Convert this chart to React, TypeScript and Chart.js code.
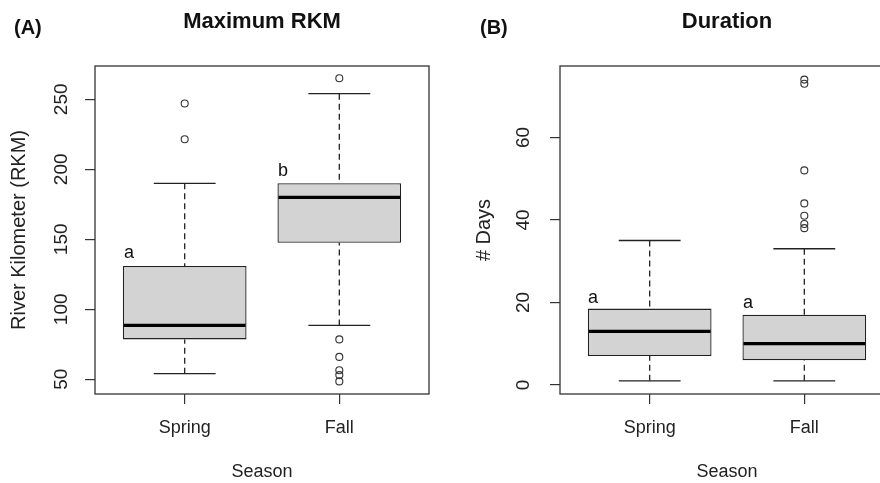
import React, { useEffect, useRef } from 'react';
import { Chart, registerables } from 'chart.js';

Chart.register(...registerables);

// ---------- data ----------
const seasons = ['Spring', 'Fall'];

// Panel A: Maximum RKM
const rkmLowerWhisker = [54, 88.5];
const rkmQ1 = [78.5, 147.5];
const rkmMedian = [88.5, 180];
const rkmQ3 = [131, 190];
const rkmUpperWhisker = [190, 254];
const rkmOutliers = [
  [221.5, 247],
  [265, 78.5, 66, 56.5, 53, 48.5],
];
const rkmTicks = [50, 100, 150, 200, 250];
const rkmLetters = ['a', 'b'];
const rkmLetterX = [0.64, 1.636];
const rkmLetterY = [138.8, 197.6];

// Panel B: Duration
const daysLowerWhisker = [1, 1];
const daysQ1 = [7, 6];
const daysMedian = [13, 10];
const daysQ3 = [18.5, 17];
const daysUpperWhisker = [35, 33];
const daysOutliers = [
  [] as number[],
  [74, 73, 52, 44, 41, 39, 38],
];
const daysTicks = [0, 20, 40, 60];
const daysLetters = ['a', 'a'];
const daysLetterX = [0.633, 1.636];
const daysLetterY = [20.8, 19.4];

const FONT = "'Liberation Sans', Arial, Helvetica, sans-serif";
const INK = '#222';

type Panel = {
  panelLabel: string;
  title: string;
  yTitle: string;
  lower: number[];
  q1: number[];
  median: number[];
  q3: number[];
  upper: number[];
  outliers: number[][];
  yMin: number;
  yMax: number;
  yTicks: number[];
  letters: string[];
  letterX: number[];
  letterY: number[];
  yAxisWidth: number;
  rightPad: number;
  yTickPadding: number;
  yTitlePad: number;
  labelX: number;
};

function makeConfig(p: Panel): any {
  const boxPlugin = {
    id: 'boxExtras',
    afterDatasetsDraw(chart: any) {
      const { ctx, scales, chartArea } = chart;
      const xs = scales.x;
      const ys = scales.y;
      ctx.save();
      for (let i = 0; i < seasons.length; i++) {
        const cx = xs.getPixelForValue(i + 1);
        const half = xs.getPixelForValue(i + 1 + 0.4) - cx;
        const capHalf = xs.getPixelForValue(i + 1 + 0.2) - cx;
        // whiskers (dashed)
        ctx.strokeStyle = INK;
        ctx.lineWidth = 1.3;
        ctx.setLineDash([6, 4]);
        ctx.beginPath();
        ctx.moveTo(cx, ys.getPixelForValue(p.upper[i]));
        ctx.lineTo(cx, ys.getPixelForValue(p.q3[i]));
        ctx.moveTo(cx, ys.getPixelForValue(p.lower[i]));
        ctx.lineTo(cx, ys.getPixelForValue(p.q1[i]));
        ctx.stroke();
        ctx.setLineDash([]);
        // caps
        ctx.beginPath();
        const yu = ys.getPixelForValue(p.upper[i]);
        const yl = ys.getPixelForValue(p.lower[i]);
        ctx.moveTo(cx - capHalf, yu);
        ctx.lineTo(cx + capHalf, yu);
        ctx.moveTo(cx - capHalf, yl);
        ctx.lineTo(cx + capHalf, yl);
        ctx.stroke();
        // median
        ctx.strokeStyle = '#000';
        ctx.lineWidth = 3.2;
        ctx.beginPath();
        const ym = ys.getPixelForValue(p.median[i]);
        ctx.moveTo(cx - half + 1, ym);
        ctx.lineTo(cx + half - 1, ym);
        ctx.stroke();
        // letters
        ctx.fillStyle = '#111';
        ctx.font = `18px ${FONT}`;
        ctx.textAlign = 'center';
        ctx.textBaseline = 'middle';
        ctx.fillText(
          p.letters[i],
          xs.getPixelForValue(p.letterX[i]),
          ys.getPixelForValue(p.letterY[i]) - 1.5
        );
      }
      // frame
      ctx.strokeStyle = '#333';
      ctx.lineWidth = 1.3;
      ctx.strokeRect(
        chartArea.left,
        chartArea.top,
        chartArea.right - chartArea.left,
        chartArea.bottom - chartArea.top
      );
      ctx.restore();
    },
    afterDraw(chart: any) {
      const { ctx, chartArea } = chart;
      ctx.save();
      ctx.fillStyle = '#111';
      ctx.textBaseline = 'middle';
      ctx.font = `bold 20px ${FONT}`;
      ctx.textAlign = 'left';
      ctx.fillText(p.panelLabel, p.labelX, 28.5);
      ctx.font = `bold 22px ${FONT}`;
      ctx.textAlign = 'center';
      ctx.fillText(p.title, (chartArea.left + chartArea.right) / 2, 22);
      ctx.restore();
    },
  };

  return {
    type: 'bar',
    data: {
      datasets: [
        {
          type: 'bar',
          data: seasons.map((_, i) => ({ x: i + 1, y: [p.q1[i], p.q3[i]] })),
          backgroundColor: '#d3d3d3',
          borderColor: INK,
          borderWidth: 1.3,
          borderSkipped: false,
          categoryPercentage: 1,
          barPercentage: 0.8,
        },
        {
          type: 'scatter',
          data: p.outliers.flatMap((arr, i) => arr.map((v) => ({ x: i + 1, y: v }))),
          pointStyle: 'circle',
          pointRadius: 3.5,
          backgroundColor: 'rgba(0,0,0,0)',
          borderColor: '#333',
          borderWidth: 1.1,
        },
      ],
    },
    options: {
      animation: false,
      responsive: false,
      events: [],
      layout: { padding: { left: 0, right: p.rightPad, top: 66, bottom: 0 } },
      plugins: { legend: { display: false }, tooltip: { enabled: false } },
      scales: {
        x: {
          type: 'linear',
          min: 0.42,
          max: 2.58,
          offset: false,
          afterBuildTicks: (s: any) => {
            s.ticks = seasons.map((_, i) => ({ value: i + 1 }));
          },
          afterFit: (s: any) => {
            s.height = 89;
          },
          grid: {
            display: true,
            offset: false,
            drawOnChartArea: false,
            drawTicks: true,
            tickLength: 10,
            color: '#333',
            lineWidth: 1.2,
          },
          border: { display: false },
          ticks: {
            callback: (v: number) => seasons[Math.round(v) - 1],
            font: { family: FONT, size: 18 },
            color: INK,
            padding: 13,
            maxRotation: 0,
            minRotation: 0,
          },
          title: {
            display: true,
            text: 'Season',
            font: { family: FONT, size: 18 },
            color: INK,
            padding: { top: 0, bottom: 0 },
          },
        },
        y: {
          type: 'linear',
          min: p.yMin,
          max: p.yMax,
          afterBuildTicks: (s: any) => {
            s.ticks = p.yTicks.map((v) => ({ value: v }));
          },
          afterFit: (s: any) => {
            s.width = p.yAxisWidth;
          },
          grid: {
            display: true,
            drawOnChartArea: false,
            drawTicks: true,
            tickLength: 10,
            color: '#333',
            lineWidth: 1.2,
          },
          border: { display: false },
          ticks: {
            font: { family: FONT, size: 19 },
            color: INK,
            minRotation: 90,
            maxRotation: 90,
            crossAlign: 'center',
            padding: p.yTickPadding,
          },
          title: {
            display: true,
            text: p.yTitle,
            font: { family: FONT, size: 20 },
            color: INK,
            padding: { top: p.yTitlePad, bottom: 0 },
          },
        },
      },
    },
    plugins: [boxPlugin],
  };
}

const panelA: Panel = {
  panelLabel: '(A)',
  title: 'Maximum RKM',
  yTitle: 'River Kilometer (RKM)',
  lower: rkmLowerWhisker,
  q1: rkmQ1,
  median: rkmMedian,
  q3: rkmQ3,
  upper: rkmUpperWhisker,
  outliers: rkmOutliers,
  yMin: 39.5,
  yMax: 273.8,
  yTicks: rkmTicks,
  letters: rkmLetters,
  letterX: rkmLetterX,
  letterY: rkmLetterY,
  yAxisWidth: 95,
  rightPad: 11,
  yTickPadding: 7,
  yTitlePad: 7,
  labelX: 14,
};

const panelB: Panel = {
  panelLabel: '(B)',
  title: 'Duration',
  yTitle: '# Days',
  lower: daysLowerWhisker,
  q1: daysQ1,
  median: daysMedian,
  q3: daysQ3,
  upper: daysUpperWhisker,
  outliers: daysOutliers,
  yMin: -2.2,
  yMax: 77.3,
  yTicks: daysTicks,
  letters: daysLetters,
  letterX: daysLetterX,
  letterY: daysLetterY,
  yAxisWidth: 120,
  rightPad: 6,
  yTickPadding: 16,
  yTitlePad: 32,
  labelX: 40,
};

function PanelChart({ panel, left, width }: { panel: Panel; left: number; width: number }) {
  const ref = useRef<HTMLCanvasElement>(null);
  useEffect(() => {
    if (!ref.current) return;
    const chart = new Chart(ref.current, makeConfig(panel));
    return () => chart.destroy();
  }, [panel]);
  return (
    <canvas
      ref={ref}
      width={width}
      height={483}
      style={{ position: 'absolute', left, top: 0, width, height: 483, display: 'block' }}
    />
  );
}

export default function App() {
  return (
    <div
      style={{
        position: 'fixed',
        left: 0,
        top: 0,
        width: 880,
        height: 483,
        overflow: 'hidden',
        background: '#fff',
      }}
    >
      <PanelChart panel={panelA} left={0} width={440} />
      <PanelChart panel={panelB} left={440} width={460} />
    </div>
  );
}
